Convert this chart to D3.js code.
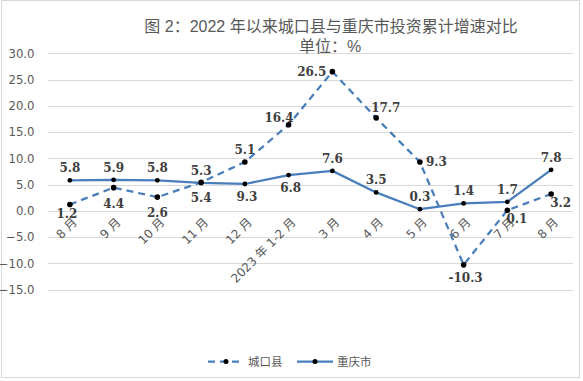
<!DOCTYPE html>
<html><head><meta charset="utf-8">
<script src="https://cdn.jsdelivr.net/npm/d3@7/dist/d3.min.js"></script>
<style>
body{margin:0;background:#fff;}
svg{display:block;}
</style></head>
<body><svg id="c" width="583" height="381"></svg>
<script>
const categories = ["8 月","9 月","10 月","11 月","12 月","2023 年 1-2 月","3 月","4 月","5 月","6 月","7 月","8 月"];
const chengkou = [1.2,4.4,2.6,5.4,9.3,16.4,26.5,17.7,9.3,-10.3,0.1,3.2];
const chongqing = [5.8,5.9,5.8,5.3,5.1,6.8,7.6,3.5,0.3,1.4,1.7,7.8];
const chengkouLabels = ["1.2","4.4","2.6","5.4","5.1","16.4","26.5","17.7","9.3","-10.3","0.1","3.2"];
const chongqingLabels = ["5.8","5.9","5.8","5.3","9.3","6.8","7.6","3.5","0.3","1.4","1.7","7.8"];
const yTicks = [30,25,20,15,10,5,0,-5,-10,-15];
const seriesNames = ["城口县","重庆市"];
const title = "图 2：2022 年以来城口县与重庆市投资累计增速对比";
const subtitle = "单位：%";

// label placement modes
const chengkouPlace = ["belowClose","below","below","below","above","leftUp","left","aboveRight","right","belowMid","belowRight","belowRight"];
const chongqingPlace = ["above","above","above","above","belowMid","belowMid","above","above","above","above","above","above"];

const svg = d3.select("#c");
const blue = "#4a7ebb";
const grey = "#595959";

svg.append("rect").attr("x",1.5).attr("y",0.5).attr("width",578).attr("height",377)
  .attr("fill","#fff").attr("stroke","#d9d9d9");

const x = d3.scaleBand().domain(d3.range(categories.length)).range([48,573]);
const xc = i => x(i) + x.bandwidth()/2;
const y = d3.scaleLinear().domain([-15,30]).range([289.5,53.3]);

// gridlines
svg.append("g").selectAll("line").data(yTicks).join("line")
  .attr("x1",48).attr("x2",573)
  .attr("y1",d=>Math.round(y(d))+0.5).attr("y2",d=>Math.round(y(d))+0.5)
  .attr("stroke","#d9d9d9").attr("stroke-width",1);

// y axis labels
const yAxis = d3.axisLeft(y).tickValues(yTicks).tickFormat(d3.format(".1f")).tickSize(0).tickPadding(0);
const gy = svg.append("g").attr("transform","translate(34.5,0)").call(yAxis);
gy.select(".domain").remove();
gy.selectAll("text").attr("font-family","DejaVu Sans, sans-serif").attr("font-size",11.7).attr("fill",grey);

// x labels
svg.append("g").selectAll("text").data(categories).join("text")
  .attr("transform",(d,i)=>`translate(${xc(i)+5},${220}) rotate(-45)`)
  .attr("text-anchor","end").attr("dy","0.35em")
  .attr("font-family","DejaVu Sans, 'Noto Sans CJK SC', sans-serif").attr("font-size",12)
  .attr("fill",grey).text(d=>d);

// title
svg.append("text").attr("x",331).attr("y",32).attr("text-anchor","middle")
  .attr("font-family","'Liberation Sans','Noto Sans CJK SC',sans-serif").attr("font-size",16)
  .attr("fill",grey).text(title);
svg.append("text").attr("x",330).attr("y",52).attr("text-anchor","middle")
  .attr("font-family","'Liberation Sans','Noto Sans CJK SC',sans-serif").attr("font-size",16)
  .attr("fill",grey).text(subtitle);

const line = d3.line().x((d,i)=>xc(i)).y(d=>y(d));

svg.append("path").datum(chongqing).attr("d",line).attr("fill","none")
  .attr("stroke",blue).attr("stroke-width",2.25).attr("stroke-linejoin","round");
svg.append("path").datum(chengkou).attr("d",line).attr("fill","none")
  .attr("stroke",blue).attr("stroke-width",2.25).attr("stroke-dasharray","7,5");

svg.append("g").selectAll("circle").data(chongqing).join("circle")
  .attr("cx",(d,i)=>xc(i)).attr("cy",d=>y(d)).attr("r",2.4).attr("fill","#000");
svg.append("g").selectAll("circle").data(chengkou).join("circle")
  .attr("cx",(d,i)=>xc(i)).attr("cy",d=>y(d)).attr("r",2.8).attr("fill","#000");

function placeLabel(sel, place){
  sel.each(function(d,i){
    const t = d3.select(this);
    const px = xc(i), py = y(d.v);
    let ax = px, ay = py, anchor = "middle";
    switch(place[i]){
      case "above": ay = py-8; break;
      case "below": ay = py+20; break;
      case "belowMid": ay = py+17; ax = px+2; break;
      case "belowClose": ax = px-3; ay = py+14; break;
      case "left": ax = px-6; ay = py+4; anchor="end"; break;
      case "leftUp": ax = px+5; ay = py-3; anchor="end"; break;
      case "right": ax = px+6; ay = py+4; anchor="start"; break;
      case "aboveRight": ax = px-5; ay = py-6; anchor="start"; break;
      case "belowRight": ax = px-1; ay = py+13; anchor="start"; break;
    }
    t.attr("x",ax).attr("y",ay).attr("text-anchor",anchor);
  });
}
const lblStyle = s => s.attr("font-family","'DejaVu Serif',serif").attr("font-size",12)
  .attr("font-weight","bold").attr("fill","#404040");

svg.append("g").selectAll("text").data(chongqing.map((v,i)=>({v,t:chongqingLabels[i]}))).join("text")
  .text(d=>d.t).call(lblStyle).call(placeLabel, chongqingPlace);
svg.append("g").selectAll("text").data(chengkou.map((v,i)=>({v,t:chengkouLabels[i]}))).join("text")
  .text(d=>d.t).call(lblStyle).call(placeLabel, chengkouPlace);

// legend
const lg = svg.append("g");
const legendItems = [{name:seriesNames[0],x:208,dash:"7,5"},{name:seriesNames[1],x:297,dash:null}];
legendItems.forEach(it=>{
  lg.append("line").attr("x1",it.x).attr("x2",it.x+36).attr("y1",361.5).attr("y2",361.5)
    .attr("stroke",blue).attr("stroke-width",2.25).attr("stroke-dasharray",it.dash);
  lg.append("circle").attr("cx",it.x+18).attr("cy",361.5).attr("r",2.5).attr("fill","#000");
  lg.append("text").attr("x",it.x+40).attr("y",366).attr("font-family","'Noto Sans CJK SC',sans-serif")
    .attr("font-size",11.5).attr("fill",grey).text(it.name);
});
</script></body></html>
